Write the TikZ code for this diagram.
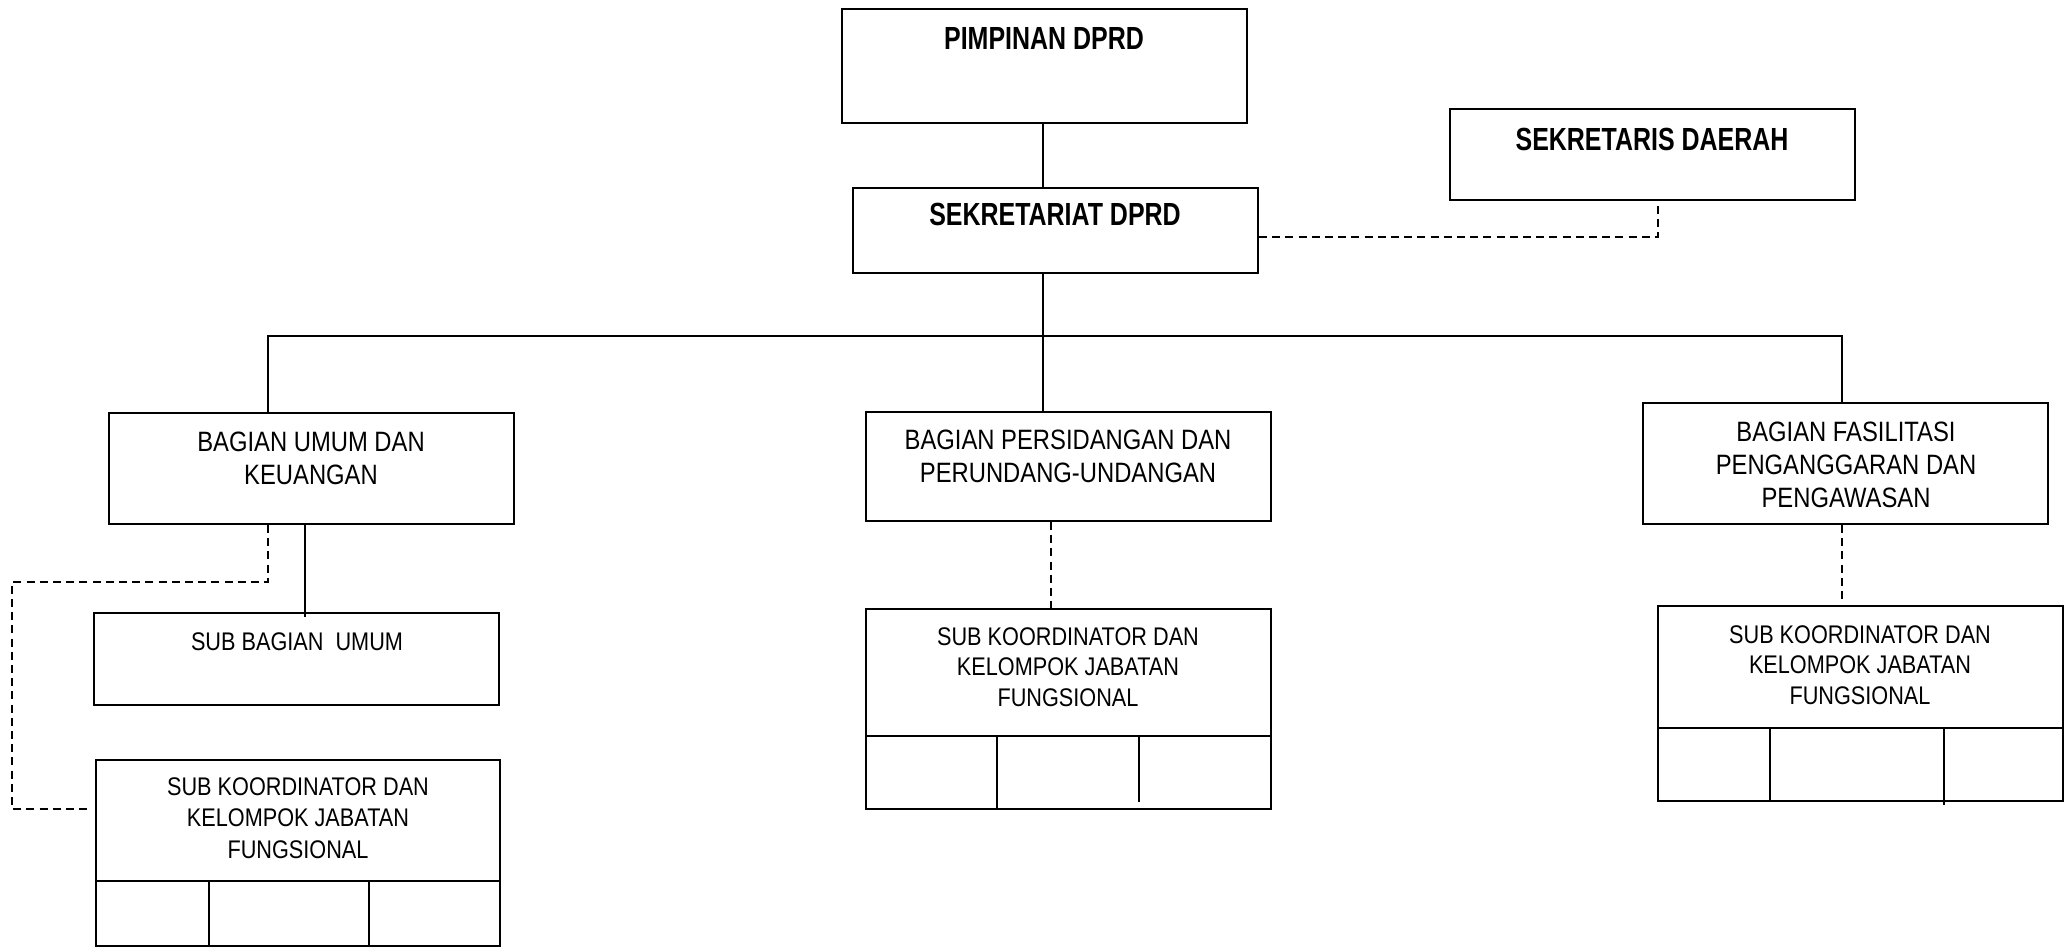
\documentclass[tikz,border=0pt]{standalone}
\usepackage{fontspec}
\setmainfont{Liberation Sans}[FakeStretch=0.85]
\newfontfamily\boldf{Liberation Sans Bold}[FakeStretch=0.78]
\usetikzlibrary{fit}
\tikzset{
  boxst/.style={draw, line width=1pt, inner sep=0pt},
  conn/.style={line width=1pt},
  dsh/.style={line width=1pt, dash pattern=on 4pt off 2.6pt},
  hdtxt/.style={font=\boldf\fontsize{16}{19}\selectfont, align=center, inner sep=0pt, anchor=north},
  bgtxt/.style={font=\fontsize{14}{16.5}\selectfont, align=center, inner sep=0pt, anchor=north},
  sbtxt/.style={font=\fontsize{12.75}{15.2}\selectfont, align=center, inner sep=0pt, anchor=north},
}
\newcommand\obox[5]{\node[boxst, fit={(#2,#3) (#4,#5)}] (#1) {};}
\begin{document}
\begin{tikzpicture}[x=0.5pt, y=-0.5pt]
\useasboundingbox (0,0) rectangle (2069,947);
% boxes
\obox{pim}{842}{9}{1247}{123}
\obox{sek}{853}{188}{1258}{273}
\obox{sekda}{1450}{109}{1855}{200}
\obox{bum}{109}{413}{514}{524}
\obox{bper}{866}{412}{1271}{521}
\obox{bfas}{1643}{403}{2048}{524}
\obox{sbu}{94}{613}{499}{705}
\obox{skl}{96}{760}{500}{946}
\obox{skc}{866}{609}{1271}{809}
\obox{skr}{1658}{606}{2063}{801}
% texts
\node[hdtxt] (tpim) at (1044,27) {PIMPINAN DPRD};
\node[hdtxt] (tsek) at (1055,203) {SEKRETARIAT DPRD};
\node[hdtxt] (tsekda) at (1652,128) {SEKRETARIS DAERAH};
\node[bgtxt] (tbum) at (311,432) {BAGIAN UMUM DAN\\KEUANGAN};
\node[bgtxt] (tbper) at (1068,430) {BAGIAN PERSIDANGAN DAN\\PERUNDANG-UNDANGAN};
\node[bgtxt] (tbfas) at (1846,422) {BAGIAN FASILITASI\\PENGANGGARAN DAN\\PENGAWASAN};
\node[sbtxt] (tsbu) at (297,632) {SUB BAGIAN\ \ UMUM};
\node[sbtxt, font=\fontsize{12.75}{15.8}\selectfont] (tskl) at (298,777) {SUB KOORDINATOR DAN\\KELOMPOK JABATAN\\FUNGSIONAL};
\node[sbtxt] (tskc) at (1068,627) {SUB KOORDINATOR DAN\\KELOMPOK JABATAN\\FUNGSIONAL};
\node[sbtxt] (tskr) at (1860,625) {SUB KOORDINATOR DAN\\KELOMPOK JABATAN\\FUNGSIONAL};
% table rows under sub koordinator boxes
\coordinate (lA) at (96,881);  \coordinate (lB) at (500,881);
\coordinate (lv1) at (209,881); \coordinate (lv2) at (369,881);
\draw[conn] (lA) -- (lB);
\draw[conn] (lv1) -- (lv1 |- skl.south);
\draw[conn] (lv2) -- (lv2 |- skl.south);
\coordinate (cA) at (866,736);  \coordinate (cB) at (1271,736);
\coordinate (cv1) at (997,736); \coordinate (cv2) at (1139,736); \coordinate (cv2e) at (1139,802);
\draw[conn] (cA) -- (cB);
\draw[conn] (cv1) -- (cv1 |- skc.south);
\draw[conn] (cv2) -- (cv2e);
\coordinate (rA) at (1658,728);  \coordinate (rB) at (2063,728);
\coordinate (rv1) at (1770,728); \coordinate (rv2) at (1944,728); \coordinate (rv2e) at (1944,805);
\draw[conn] (rA) -- (rB);
\draw[conn] (rv1) -- (rv1 |- skr.south);
\draw[conn] (rv2) -- (rv2e);
% connectors
\coordinate (spine) at (1043,336);
\coordinate (busL) at (268,336);
\coordinate (busR) at (1842,336);
\draw[conn] (pim.south -| spine) -- (sek.north -| spine);
\draw[conn] (sek.south -| spine) -- (bper.north -| spine);
\draw[conn] (bum.north -| busL) -- (busL) -- (busR) -- (bfas.north -| busR);
\coordinate (dk) at (1658,237);
\draw[dsh] (sek.east |- dk) -- (dk) -- (sekda.south -| dk);
\coordinate (d1) at (268,582);
\coordinate (d2) at (12,582);
\coordinate (d3) at (12,809);
\coordinate (d4) at (90,809);
\draw[dsh] (bum.south -| d1) -- (d1) -- (d2) -- (d3) -- (d4);
\coordinate (xu) at (305,617);
\draw[conn] (bum.south -| xu) -- (xu);
\coordinate (xc) at (1051,500);
\draw[dsh] (bper.south -| xc) -- (skc.north -| xc);
\coordinate (xr) at (1842,600);
\draw[dsh] (bfas.south -| xr) -- (xr);
\end{tikzpicture}
\end{document}
